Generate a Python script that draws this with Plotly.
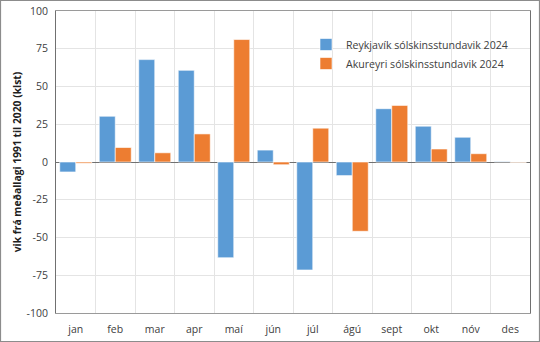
import plotly.graph_objects as go

months = ["jan", "feb", "mar", "apr", "maí", "jún", "júl", "ágú", "sept", "okt", "nóv", "des"]
reykjavik = [-6.6, 30.3, 67.8, 60.7, -63.4, 7.9, -71.5, -9.0, 35.3, 23.7, 16.4, 0.3]
akureyri = [-0.8, 9.6, 6.1, 18.6, 81.1, -1.8, 22.4, -45.9, 37.5, 8.6, 5.5, -0.3]
yticks = [-100, -75, -50, -25, 0, 25, 50, 75, 100]

W, H = 540, 342
ml, mr, mt, mb = 56, 10, 11, 29
pw, ph = W - ml - mr, H - mt - mb

fig = go.Figure()
fig.add_trace(go.Bar(x=months, y=reykjavik, name="Reykjavík sólskinsstundavik 2024",
                     marker=dict(color="#5B9BD5", line=dict(color="#ffffff", width=0.6))))
fig.add_trace(go.Bar(x=months, y=akureyri, name="Akureyri sólskinsstundavik 2024",
                     marker=dict(color="#ED7D31", line=dict(color="#ffffff", width=0.6))))

fig.update_layout(
    width=W, height=H, autosize=False,
    margin=dict(l=ml, r=mr, t=mt, b=mb, autoexpand=False),
    paper_bgcolor="white", plot_bgcolor="white",
    barmode="group", bargap=0.19, bargroupgap=0,
    font=dict(family="Open Sans, Liberation Sans, sans-serif", color="#404040", size=10),
    showlegend=True,
    legend=dict(x=(306 - ml) / pw, y=1 - (30 - mt) / ph, xanchor="left", yanchor="top",
                bgcolor="rgba(0,0,0,0)", font=dict(size=10.6, color="#404040"),
                itemwidth=30, tracegroupgap=4),
    xaxis=dict(type="category", tickson="boundaries", showgrid=True, gridcolor="#e4e4e4",
               gridwidth=1, ticks="", showline=True, linecolor="#9a9a9a", mirror=True,
               automargin=False, ticklabelstandoff=6,
               tickfont=dict(size=10.5, color="#404040")),
    yaxis=dict(range=[-100, 100], tickvals=yticks, ticktext=[str(v) for v in yticks],
               showgrid=True, gridcolor="#e4e4e4", automargin=False,
               zeroline=True, zerolinecolor="#707070", zerolinewidth=1,
               showline=True, linecolor="#707070", mirror=True, ticks="",
               ticklabelstandoff=5,
               tickfont=dict(size=10.5, color="#404040"),
               title=dict(text="<b>vik frá meðallagi 1991 til 2020 (klst)</b>",
                          font=dict(size=10.3, color="#202020"), standoff=2)),
)

fig.add_shape(type="rect", xref="paper", yref="paper",
              x0=(-ml + 0.5) / pw, x1=1 + (mr - 0.5) / pw,
              y0=(-mb + 0.5) / ph, y1=1 + (mt - 0.5) / ph,
              line=dict(color="#8c8c8c", width=1.2), layer="above")

fig.write_html("out.html")
